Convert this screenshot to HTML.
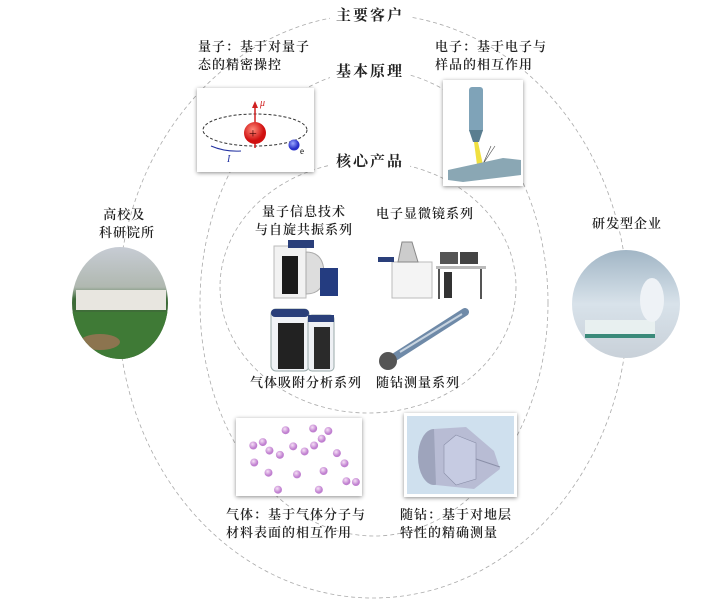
<!DOCTYPE html>
<html><head><meta charset="utf-8"><style>
body{margin:0;width:720px;height:613px;background:#fff;position:relative;overflow:hidden;font-family:"Liberation Serif","Noto Serif CJK SC",serif;color:#222}
.t{position:absolute;font-size:13px;line-height:18px;white-space:nowrap;letter-spacing:1px;font-weight:600}
.h{position:absolute;font-size:15px;font-weight:bold;background:#fff;padding:0 6px;white-space:nowrap;letter-spacing:2px}
.box{position:absolute;background:#fff;box-shadow:0 1px 4px rgba(0,0,0,.45)}
</style></head><body>
<svg width="720" height="613" style="position:absolute;left:0;top:0">
<g fill="none" stroke="#aaa" stroke-width="0.8" stroke-dasharray="4,3">
<ellipse cx="373" cy="306" rx="255" ry="292"/>
<ellipse cx="374" cy="303" rx="174" ry="233"/>
<ellipse cx="368" cy="287" rx="148" ry="126"/>
</g>
<defs>
<radialGradient id="red" cx="40%" cy="35%"><stop offset="0" stop-color="#ff8a7a"/><stop offset="1" stop-color="#d01010"/></radialGradient>
<radialGradient id="blue" cx="40%" cy="35%"><stop offset="0" stop-color="#9aa8ff"/><stop offset="1" stop-color="#2830c8"/></radialGradient>
<radialGradient id="pk" cx="40%" cy="35%"><stop offset="0" stop-color="#f6e0f6"/><stop offset="1" stop-color="#c080d0"/></radialGradient>
<linearGradient id="sky" x1="0" y1="0" x2="0" y2="1"><stop offset="0" stop-color="#c8cdd6"/><stop offset="0.35" stop-color="#b0b8b0"/><stop offset="0.45" stop-color="#3c6a38"/><stop offset="1" stop-color="#4a7a3a"/></linearGradient>
<linearGradient id="lab" x1="0" y1="0" x2="0" y2="1"><stop offset="0" stop-color="#9fb4c4"/><stop offset="0.5" stop-color="#d8e2ea"/><stop offset="1" stop-color="#c8d0d8"/></linearGradient>
<clipPath id="cl"><ellipse cx="120" cy="303" rx="48" ry="56"/></clipPath>
<clipPath id="cr"><ellipse cx="626" cy="304" rx="54" ry="54"/></clipPath>
</defs>
<g clip-path="url(#cl)">
<rect x="70" y="245" width="100" height="120" fill="url(#sky)"/>
<rect x="76" y="290" width="90" height="20" fill="#e8e6e0"/>
<rect x="70" y="312" width="100" height="50" fill="#3f7a36"/>
<ellipse cx="100" cy="342" rx="20" ry="8" fill="#c07060" opacity=".6"/>
</g>
<g clip-path="url(#cr)">
<rect x="570" y="248" width="112" height="112" fill="url(#lab)"/>
<rect x="585" y="320" width="70" height="14" fill="#e8f0f0"/>
<rect x="585" y="334" width="70" height="4" fill="#3a8a7a"/>
<ellipse cx="652" cy="300" rx="12" ry="22" fill="#eef2f6"/>
</g>
</svg>

<div class="h" style="left:330px;top:4px">主要客户</div>
<div class="h" style="left:330px;top:60px">基本原理</div>
<div class="h" style="left:330px;top:150px">核心产品</div>

<div class="t" style="left:198px;top:38px">量子：基于对量子<br>态的精密操控</div>
<div class="t" style="left:435px;top:38px">电子：基于电子与<br>样品的相互作用</div>

<div class="box" style="left:197px;top:88px;width:117px;height:84px">
<svg width="117" height="84">
<ellipse cx="58" cy="42" rx="52" ry="16" fill="none" stroke="#333" stroke-dasharray="3,2"/>
<line x1="58" y1="60" x2="58" y2="18" stroke="#d02020" stroke-width="1.5"/>
<polygon points="55,20 61,20 58,13" fill="#d02020"/>
<text x="63" y="18" font-size="10" fill="#d02020" font-style="italic">μ</text>
<circle cx="58" cy="45" r="11" fill="url(#red)"/>
<text x="52" y="50" font-size="14" fill="#400">+</text>
<circle cx="97" cy="57" r="5.5" fill="url(#blue)"/>
<text x="103" y="66" font-size="9">e</text>
<path d="M14 58 Q28 64 44 63" stroke="#2030a0" fill="none"/>
<text x="30" y="74" font-size="10" fill="#2030a0" font-style="italic">I</text>
</svg></div>

<div class="box" style="left:443px;top:80px;width:80px;height:106px">
<svg width="80" height="106">
<rect x="26" y="7" width="14" height="46" rx="3" fill="#7fa3b8"/>
<polygon points="26,50 40,50 36,62 30,62" fill="#5a7e90"/>
<polygon points="31,62 35,62 40,85 34,85" fill="#f0e040"/>
<line x1="40" y1="84" x2="48" y2="66" stroke="#444" stroke-width=".6"/>
<line x1="40" y1="84" x2="52" y2="66" stroke="#444" stroke-width=".6"/>
<polygon points="5,90 60,78 78,80 78,95 20,102 5,100" fill="#8aa7b4"/>
</svg></div>

<div class="t" style="left:255px;top:203px;text-align:center">量子信息技术<br>与自旋共振系列</div>
<div class="t" style="left:376px;top:205px">电子显微镜系列</div>

<svg style="position:absolute;left:262px;top:238px" width="84" height="66">
<rect x="12" y="8" width="32" height="52" fill="#f2f2f2" stroke="#bbb"/>
<rect x="20" y="18" width="16" height="38" fill="#1a1a1a"/>
<rect x="26" y="2" width="26" height="8" fill="#2a3f7a"/>
<path d="M44 14 Q62 14 62 36 Q62 56 44 56Z" fill="#ddd" stroke="#aaa"/>
<rect x="58" y="30" width="18" height="28" fill="#243c80"/>
</svg>
<svg style="position:absolute;left:372px;top:232px" width="120" height="70">
<rect x="20" y="30" width="40" height="36" fill="#f4f4f4" stroke="#bbb"/>
<polygon points="30,10 40,10 46,30 26,30" fill="#ccc" stroke="#888"/>
<rect x="6" y="25" width="16" height="5" fill="#2a3f7a"/>
<rect x="68" y="20" width="18" height="12" fill="#555"/>
<rect x="88" y="20" width="18" height="12" fill="#444"/>
<rect x="64" y="34" width="50" height="3" fill="#bbb"/>
<rect x="66" y="37" width="2" height="30" fill="#555"/>
<rect x="108" y="37" width="2" height="30" fill="#555"/>
<rect x="72" y="40" width="8" height="26" fill="#333"/>
</svg>
<svg style="position:absolute;left:266px;top:305px" width="72" height="68">
<rect x="5" y="4" width="38" height="62" rx="5" fill="#f0f2f6" stroke="#9aa"/>
<rect x="5" y="4" width="38" height="8" rx="4" fill="#2a3f7a"/>
<rect x="12" y="18" width="26" height="46" fill="#222"/>
<rect x="42" y="10" width="26" height="56" rx="4" fill="#eef0f4" stroke="#9aa"/>
<rect x="42" y="10" width="26" height="7" fill="#2a3f7a"/>
<rect x="48" y="22" width="16" height="42" fill="#2a2a2a"/>
</svg>
<svg style="position:absolute;left:370px;top:308px" width="100" height="66">
<line x1="20" y1="52" x2="95" y2="4" stroke="#6f8aa8" stroke-width="8" stroke-linecap="round"/>
<line x1="30" y1="44" x2="92" y2="6" stroke="#c8d4e0" stroke-width="2"/>
<circle cx="18" cy="53" r="9" fill="#555"/>
</svg>

<div class="t" style="left:250px;top:374px">气体吸附分析系列</div>
<div class="t" style="left:376px;top:374px">随钻测量系列</div>

<div class="box" style="left:236px;top:418px;width:126px;height:78px">
<svg width="126" height="78" id="gas"></svg></div>

<div class="box" style="left:404px;top:413px;width:113px;height:84px">
<svg width="113" height="84">
<rect x="3" y="3" width="107" height="78" fill="#cfe0ee"/>
<ellipse cx="30" cy="44" rx="16" ry="28" fill="#9ea4bc"/>
<polygon points="30,16 62,14 90,38 96,56 70,76 32,72" fill="#b8bcd4"/>
<polygon points="52,22 72,30 72,66 52,72 40,60 40,32" fill="#c6cbe2" stroke="#8a8fa8" stroke-width=".6"/>
<line x1="72" y1="46" x2="96" y2="54" stroke="#8a8fa8"/>
</svg></div>

<div class="t" style="left:226px;top:506px">气体：基于气体分子与<br>材料表面的相互作用</div>
<div class="t" style="left:400px;top:506px">随钻：基于对地层<br>特性的精确测量</div>

<div class="t" style="left:99px;top:206px">&nbsp;高校及<br>科研院所</div>
<div class="t" style="left:592px;top:215px">研发型企业</div>

<script>
var p=[[48,12],[77,10],[93,13],[14,30],[24,26],[31,36],[42,41],[56,31],[68,37],[78,30],[86,22],[102,39],[110,51],[30,62],[60,64],[88,60],[112,72],[40,82],[83,82],[122,73],[15,50]];
var s='';p.forEach(function(a){s+='<circle cx="'+(a[0]*0.95+4)+'" cy="'+(a[1]*0.85+2)+'" r="4" fill="url(#pk)"/>';});
document.getElementById('gas').innerHTML=s;
</script>
</body></html>
